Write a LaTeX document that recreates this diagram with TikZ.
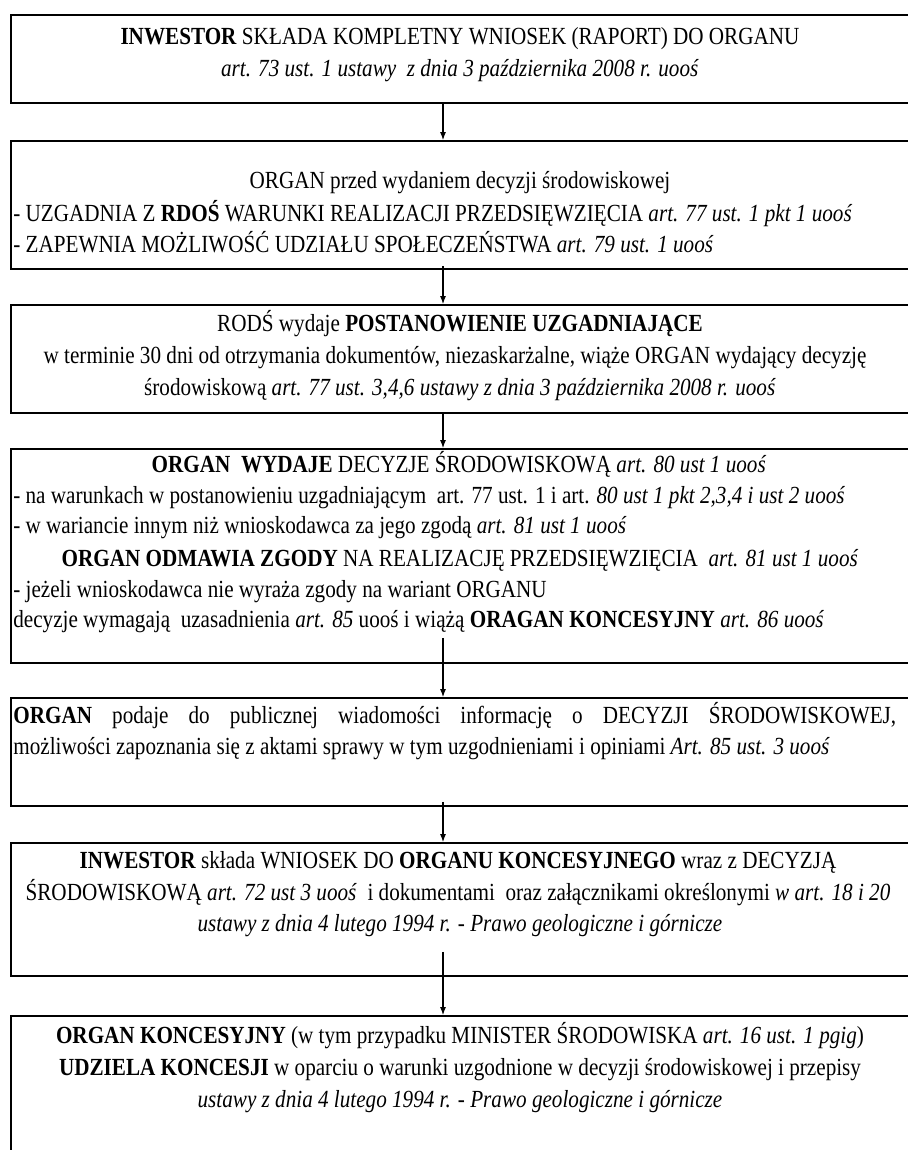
\documentclass[tikz,border=0pt]{standalone}
\usepackage{fontspec}
\setmainfont{Liberation Serif}[FakeStretch=0.86]
\usetikzlibrary{arrows.meta}
\tikzset{
  etap/.style={draw, line width=1.1pt, anchor=north west, minimum width=18.1cm, inner sep=0pt},
  wiersz/.style={font=\fontsize{14}{16}\selectfont, inner sep=0pt, anchor=base},
  lewy/.style={wiersz, anchor=base west},
  strz/.style={-{Latex[length=4.5pt,width=3.4pt]}, line width=0.6pt}
}

\begin{document}
\begin{tikzpicture}[x=0.02cm, y=-0.02cm]
		%%%%% RAMKA %%%%%
		\useasboundingbox (0, 0) rectangle (908, 1150);
		\coordinate (os) at (443, 0);
		
		\node[etap, minimum height=1.76cm] (wniosek) at (10, 14) {};
		\node[wiersz] (w1a) at (460, 44) {\textbf{INWESTOR} SKŁADA KOMPLETNY WNIOSEK (RAPORT) DO ORGANU};
		\node[wiersz] (w1b) at (460, 76) {\textit{art. 73 ust. 1 ustawy\ \ z dnia 3 października 2008 r. uooś}};
		
		\node[etap, minimum height=2.56cm] (uzgodnienie) at (10, 140) {};
		\node[wiersz] (w2a) at (460, 188) {ORGAN przed wydaniem decyzji środowiskowej};
		\node[lewy] (w2b) at (13, 221) {- UZGADNIA Z \textbf{RDOŚ} WARUNKI REALIZACJI PRZEDSIĘWZIĘCIA \textit{art. 77 ust. 1 pkt 1 uooś}};
		\node[lewy] (w2c) at (13, 252) {- ZAPEWNIA MOŻLIWOŚĆ UDZIAŁU SPOŁECZEŃSTWA \textit{art. 79 ust. 1 uooś}};
		
		\node[etap, minimum height=2.16cm] (postanowienie) at (10, 304) {};
		\node[wiersz] (w3a) at (460, 331) {RODŚ wydaje \textbf{POSTANOWIENIE UZGADNIAJĄCE}};
		\node[wiersz] (w3b) at (455, 363) {w terminie 30 dni od otrzymania dokumentów, niezaskarżalne, wiąże ORGAN wydający decyzję};
		\node[wiersz] (w3c) at (460, 395) {środowiskową \textit{art. 77 ust. 3,4,6 ustawy z dnia 3 października 2008 r. uooś}};
		
		\node[etap, minimum height=4.28cm] (decyzja) at (10, 448) {};
		\node[wiersz] (w4a) at (459, 472) {\textbf{ORGAN\ \ WYDAJE} DECYZJE ŚRODOWISKOWĄ \textit{art. 80 ust 1 uooś}};
		\node[lewy] (w4b) at (13, 503) {- na warunkach w postanowieniu uzgadniającym\ \ art. 77 ust. 1 i art. \textit{80 ust 1 pkt 2,3,4 i ust 2 uooś}};
		\node[lewy] (w4c) at (13, 533) {- w wariancie innym niż wnioskodawca za jego zgodą \textit{art. 81 ust 1 uooś}};
		\node[wiersz] (w4d) at (460, 566) {\textbf{ORGAN ODMAWIA ZGODY} NA REALIZACJĘ PRZEDSIĘWZIĘCIA\ \ \textit{art. 81 ust 1 uooś}};
		\node[lewy] (w4e) at (13, 597) {- jeżeli wnioskodawca nie wyraża zgody na wariant ORGANU};
		\node[lewy] (w4f) at (13, 627) {decyzje wymagają\ \ uzasadnienia \textit{art. 85} uooś i wiążą \textbf{ORAGAN KONCESYJNY} \textit{art. 86 uooś}};
		
		\node[etap, minimum height=2.16cm] (informacja) at (10, 697) {};
		\node[lewy] (w5a) at (13, 723) {\makebox[17.66cm][s]{\textbf{ORGAN} podaje do publicznej wiadomości informację o DECYZJI ŚRODOWISKOWEJ,}};
		\node[lewy] (w5b) at (13, 754) {możliwości zapoznania się z aktami sprawy w tym uzgodnieniami i opiniami \textit{Art. 85 ust. 3 uooś}};
		
		\node[etap, minimum height=2.66cm] (koncesja) at (10, 842) {};
		\node[wiersz] (w6a) at (458, 868) {\textbf{INWESTOR} składa WNIOSEK DO \textbf{ORGANU KONCESYJNEGO} wraz z DECYZJĄ};
		\node[wiersz] (w6b) at (458, 900) {ŚRODOWISKOWĄ \textit{art. 72 ust 3 uooś}\ \ i dokumentami\ \ oraz załącznikami określonymi \textit{w art. 18 i 20}};
		\node[wiersz] (w6c) at (460, 931) {\textit{ustawy z dnia 4 lutego 1994 r. - Prawo geologiczne i górnicze}};
		
		\node[etap, minimum height=3.2cm] (udzielenie) at (10, 1015) {};
		\node[wiersz] (w7a) at (460, 1043) {\textbf{ORGAN KONCESYJNY} (w tym przypadku MINISTER ŚRODOWISKA \textit{art. 16 ust. 1 pgig})};
		\node[wiersz] (w7b) at (460, 1075) {\textbf{UDZIELA KONCESJI} w oparciu o warunki uzgodnione w decyzji środowiskowej i przepisy};
		\node[wiersz] (w7c) at (460, 1107) {\textit{ustawy z dnia 4 lutego 1994 r. - Prawo geologiczne i górnicze}};
		
		%%%%% STRZALKI %%%%%
		\draw[strz] (wniosek.south -| os) -- (uzgodnienie.north -| os);
		\draw[strz, shorten <=-0.08cm] (uzgodnienie.south -| os) -- (postanowienie.north -| os);
		\draw[strz] (postanowienie.south -| os) -- (decyzja.north -| os);
		\draw[strz, shorten <=-0.52cm] (decyzja.south -| os) -- (informacja.north -| os);
		\draw[strz, shorten <=-0.1cm] (informacja.south -| os) -- (koncesja.north -| os);
		\draw[strz, shorten <=-0.5cm] (koncesja.south -| os) -- (udzielenie.north -| os);
\end{tikzpicture}
\end{document}
